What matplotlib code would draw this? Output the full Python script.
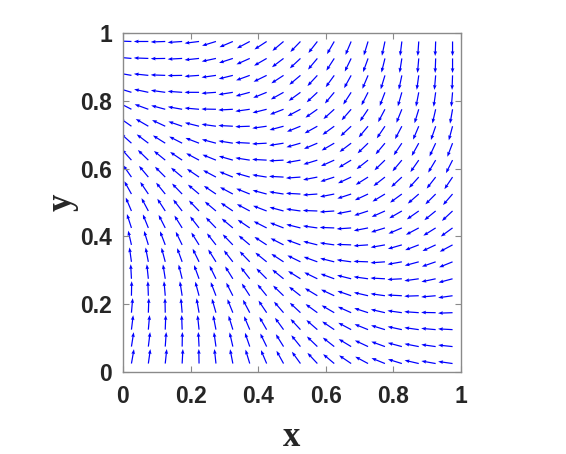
import numpy as np
import matplotlib
matplotlib.use("Agg")
import matplotlib.pyplot as plt

# grid of arrow tails (cell centres)
x_pts = [0.025, 0.075, 0.125, 0.175, 0.225, 0.275, 0.325, 0.375, 0.425, 0.475,
         0.525, 0.575, 0.625, 0.675, 0.725, 0.775, 0.825, 0.875, 0.925, 0.975]
y_pts = [0.975, 0.925, 0.875, 0.825, 0.775, 0.725, 0.675, 0.625, 0.575, 0.525,
         0.475, 0.425, 0.375, 0.325, 0.275, 0.225, 0.175, 0.125, 0.075, 0.025]

# arrow direction in degrees (rows top -> bottom)
angles_deg = [
    [178, 180, 182, 184, 187, 197, 203, 208, 213, 220, 226, 232, 240, 247, 253, 258, 263, 266, 268, 270],
    [175, 178, 181, 183, 186, 192, 198, 204, 210, 217, 223, 230, 237, 244, 250, 256, 261, 265, 268, 270],
    [170, 174, 178, 181, 184, 188, 194, 200, 206, 213, 220, 227, 234, 241, 247, 253, 258, 262, 265, 268],
    [163, 168, 172, 176, 180, 184, 189, 195, 202, 209, 216, 223, 230, 237, 243, 249, 254, 259, 262, 265],
    [153, 160, 165, 170, 175, 179, 183, 188, 194, 201, 208, 215, 222, 229, 236, 242, 248, 253, 257, 260],
    [145, 150, 155, 161, 166, 172, 177, 182, 188, 195, 202, 209, 216, 223, 230, 236, 242, 247, 251, 255],
    [138, 143, 148, 153, 159, 165, 171, 177, 183, 189, 196, 203, 210, 217, 224, 230, 236, 241, 245, 249],
    [132, 136, 141, 146, 152, 158, 164, 171, 177, 183, 190, 197, 204, 211, 218, 224, 230, 235, 239, 243],
    [125, 130, 135, 140, 146, 152, 158, 164, 171, 177, 184, 191, 198, 205, 212, 218, 223, 228, 232, 236],
    [119, 124, 129, 134, 140, 146, 152, 158, 165, 171, 177, 184, 191, 198, 205, 211, 216, 221, 225, 229],
    [113, 118, 123, 128, 134, 140, 146, 152, 159, 165, 172, 178, 184, 191, 198, 204, 210, 215, 219, 223],
    [108, 112, 117, 122, 128, 134, 140, 146, 153, 159, 166, 172, 178, 184, 191, 197, 203, 208, 212, 216],
    [103, 107, 111, 116, 122, 128, 134, 140, 147, 153, 160, 166, 172, 178, 184, 190, 196, 201, 205, 208],
    [98, 101, 105, 110, 116, 122, 128, 134, 141, 147, 154, 160, 166, 172, 178, 184, 190, 195, 199, 202],
    [93, 96, 99, 104, 110, 116, 122, 128, 135, 141, 148, 154, 160, 166, 172, 177, 183, 188, 192, 195],
    [89, 92, 95, 99, 105, 111, 117, 123, 129, 136, 142, 149, 155, 161, 167, 172, 177, 182, 185, 188],
    [85, 88, 91, 95, 100, 106, 112, 118, 124, 131, 137, 144, 150, 156, 162, 167, 172, 176, 179, 182],
    [83, 85, 88, 92, 96, 101, 107, 113, 120, 126, 133, 139, 146, 152, 158, 163, 168, 172, 175, 177],
    [81, 83, 86, 89, 93, 98, 103, 109, 116, 122, 129, 136, 142, 149, 155, 160, 165, 169, 172, 174],
    [80, 82, 84, 87, 91, 96, 101, 107, 113, 119, 126, 133, 140, 146, 152, 158, 163, 167, 170, 172],
]

tick_vals = [0, 0.2, 0.4, 0.6, 0.8, 1]
tick_labels = ["0", "0.2", "0.4", "0.6", "0.8", "1"]

X, Y = np.meshgrid(x_pts, y_pts)
th = np.deg2rad(np.array(angles_deg, dtype=float))
U = np.cos(th)
V = np.sin(th)

fig = plt.figure(figsize=(5.66, 4.54), dpi=100)
ax = fig.add_axes([0.2173, 0.1806, 0.5972, 0.7467])

arrow_len = 0.043
ax.quiver(X, Y, U, V, color="#0000ff", angles="xy", scale_units="xy",
          scale=1 / arrow_len, width=0.0036, headwidth=3.0, headlength=4.0,
          headaxislength=3.6, pivot="tail")

ax.set_xlim(0, 1)
ax.set_ylim(0, 1)
ax.set_xticks(tick_vals)
ax.set_xticklabels(tick_labels)
ax.set_yticks(tick_vals)
ax.set_yticklabels(tick_labels)

gray = "#8a8a8a"
for s in ax.spines.values():
    s.set_color(gray)
    s.set_linewidth(1.0)
ax.tick_params(direction="in", length=4, width=0.8, color=gray,
               top=True, right=True, labelsize=16.5, labelcolor="#262626")
ax.tick_params(axis="x", pad=9)
ax.tick_params(axis="y", pad=8)
for lab in ax.get_xticklabels() + ax.get_yticklabels():
    lab.set_fontweight("bold")
    lab.set_family("Liberation Sans")

ax.set_xlabel("x", fontsize=25, fontweight="bold", family="Liberation Serif",
              color="#262626", labelpad=10)
ax.set_ylabel("y", fontsize=25, fontweight="bold", family="Liberation Serif",
              color="#262626", labelpad=1)

fig.savefig("out.png", dpi=100)
